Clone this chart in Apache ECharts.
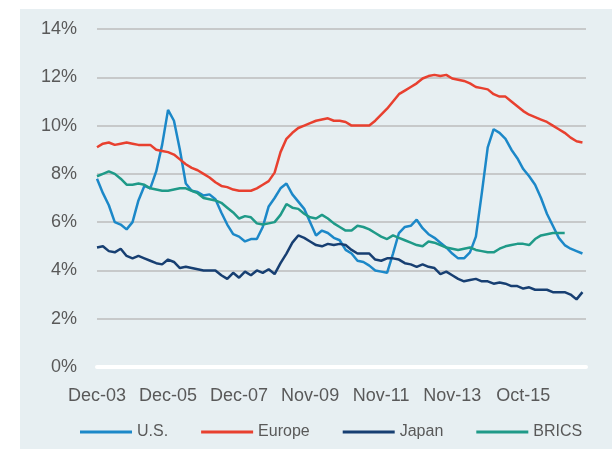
<!DOCTYPE html>
<html>
<head>
<meta charset="utf-8">
<script src="https://cdn.jsdelivr.net/npm/echarts@6/dist/echarts.min.js"></script>
<style>
  html, body { margin: 0; padding: 0; background: #fff; }
  #chart { width: 612px; height: 449px; }
</style>
</head>
<body>
<div id="chart"></div>
<script>
// one point every 2 months, starting Dec-03
const tickLabels = ['Dec-03', 'Dec-05', 'Dec-07', 'Nov-09', 'Nov-11', 'Nov-13', 'Oct-15'];

const us = [7.8, 7.2, 6.7, 6.0, 5.9, 5.7, 6.0, 6.9, 7.5, 7.4, 8.1, 9.2, 10.65, 10.2, 9.0, 7.6,
  7.3, 7.25, 7.1, 7.15, 6.95, 6.4, 5.9, 5.5, 5.4, 5.2, 5.3, 5.3, 5.8, 6.65, 7.0, 7.4,
  7.6, 7.15, 6.85, 6.55, 6.0, 5.45, 5.65, 5.55, 5.35, 5.25, 4.85, 4.7, 4.4, 4.35, 4.2, 4.0,
  3.95, 3.9, 4.7, 5.55, 5.8, 5.85, 6.1, 5.75, 5.5, 5.35, 5.15, 4.95, 4.7, 4.5, 4.5, 4.75,
  5.4, 7.2, 9.1, 9.85, 9.7, 9.45, 9.0, 8.65, 8.2, 7.9, 7.55, 7.0, 6.35, 5.85, 5.35, 5.05,
  4.9, 4.8, 4.7];

const europe = [9.1, 9.25, 9.3, 9.2, 9.25, 9.3, 9.25, 9.2, 9.2, 9.2, 9.0, 8.95, 8.9, 8.8, 8.6, 8.4,
  8.25, 8.15, 8.0, 7.85, 7.65, 7.5, 7.45, 7.35, 7.3, 7.3, 7.3, 7.4, 7.55, 7.7, 8.05, 8.9,
  9.45, 9.7, 9.9, 10.0, 10.1, 10.2, 10.25, 10.3, 10.2, 10.2, 10.15, 10.0, 10.0, 10.0, 10.0, 10.2,
  10.45, 10.7, 11.0, 11.3, 11.45, 11.6, 11.75, 11.95, 12.05, 12.1, 12.05, 12.1, 11.95, 11.9, 11.85, 11.75,
  11.6, 11.55, 11.5, 11.3, 11.2, 11.2, 11.0, 10.8, 10.6, 10.45, 10.35, 10.25, 10.15, 10.0, 9.85, 9.7,
  9.5, 9.35, 9.3];

const japan = [4.95, 5.0, 4.8, 4.75, 4.9, 4.6, 4.5, 4.6, 4.5, 4.4, 4.3, 4.25, 4.45, 4.35, 4.1, 4.15,
  4.1, 4.05, 4.0, 4.0, 4.0, 3.8, 3.65, 3.9, 3.7, 3.95, 3.8, 4.0, 3.9, 4.05, 3.85, 4.3,
  4.7, 5.15, 5.45, 5.35, 5.2, 5.05, 5.0, 5.1, 5.05, 5.1, 5.05, 4.85, 4.7, 4.7, 4.7, 4.45,
  4.4, 4.5, 4.5, 4.45, 4.3, 4.25, 4.15, 4.25, 4.15, 4.1, 3.85, 3.95, 3.8, 3.65, 3.55, 3.6,
  3.65, 3.55, 3.55, 3.45, 3.5, 3.45, 3.35, 3.35, 3.25, 3.3, 3.2, 3.2, 3.2, 3.1, 3.1, 3.1,
  3.0, 2.8, 3.1];

const brics = [7.9, 8.0, 8.1, 8.0, 7.8, 7.55, 7.55, 7.6, 7.55, 7.4, 7.35, 7.3, 7.3, 7.35, 7.4, 7.4,
  7.3, 7.2, 7.0, 6.95, 6.9, 6.8, 6.6, 6.4, 6.15, 6.25, 6.2, 5.95, 5.9, 5.95, 6.0, 6.3,
  6.75, 6.6, 6.55, 6.35, 6.2, 6.15, 6.3, 6.15, 5.95, 5.8, 5.65, 5.65, 5.85, 5.8, 5.7, 5.55,
  5.4, 5.3, 5.45, 5.35, 5.25, 5.15, 5.05, 5.0, 5.2, 5.15, 5.05, 4.95, 4.9, 4.85, 4.9, 4.95,
  4.85, 4.8, 4.75, 4.75, 4.9, 5.0, 5.05, 5.1, 5.1, 5.05, 5.3, 5.45, 5.5, 5.55, 5.55, 5.55];

const seriesNames = ['U.S.', 'Europe', 'Japan', 'BRICS'];
const seriesColors = ['#1C88C8', '#E8402F', '#173F72', '#1F9A88'];
const seriesValues = [us, europe, japan, brics];

const chart = echarts.init(document.getElementById('chart'));
const font = 'Liberation Sans';

chart.setOption({
  animation: false,
  graphic: [{
    type: 'rect',
    z: -10,
    silent: true,
    shape: { x: 20, y: 9, width: 600, height: 450 },
    style: { fill: '#E7EFF2' }
  }],
  grid: { left: 97, right: 26, top: 29, bottom: 82 },
  legend: {
    left: 80,
    top: 424,
    padding: 0,
    icon: 'rect',
    itemWidth: 52,
    itemHeight: 3,
    itemGap: 33,
    textStyle: { fontFamily: font, fontSize: 16, color: '#595959' },
    data: seriesNames
  },
  xAxis: {
    type: 'value',
    min: 0,
    max: 82.6,
    interval: 12,
    axisLine: { show: true, lineStyle: { color: '#ffffff', width: 4 } },
    axisTick: { show: false },
    splitLine: { show: false },
    axisLabel: {
      showMaxLabel: false,
      margin: 20,
      fontFamily: font,
      fontSize: 18,
      color: '#595959',
      formatter: v => tickLabels[v / 12] || ''
    }
  },
  yAxis: {
    type: 'value',
    min: 0,
    max: 14,
    interval: 2,
    axisLine: { show: false },
    axisTick: { show: false },
    splitLine: { lineStyle: { color: '#BDBDBD', width: 1.5 } },
    axisLabel: {
      margin: 20,
      fontFamily: font,
      fontSize: 18,
      color: '#595959',
      formatter: '{value}%'
    }
  },
  series: seriesNames.map((name, i) => ({
    name: name,
    type: 'line',
    symbol: 'none',
    color: seriesColors[i],
    lineStyle: { width: 2.5 },
    data: seriesValues[i].map((v, k) => [k, v])
  }))
});
</script>
</body>
</html>
